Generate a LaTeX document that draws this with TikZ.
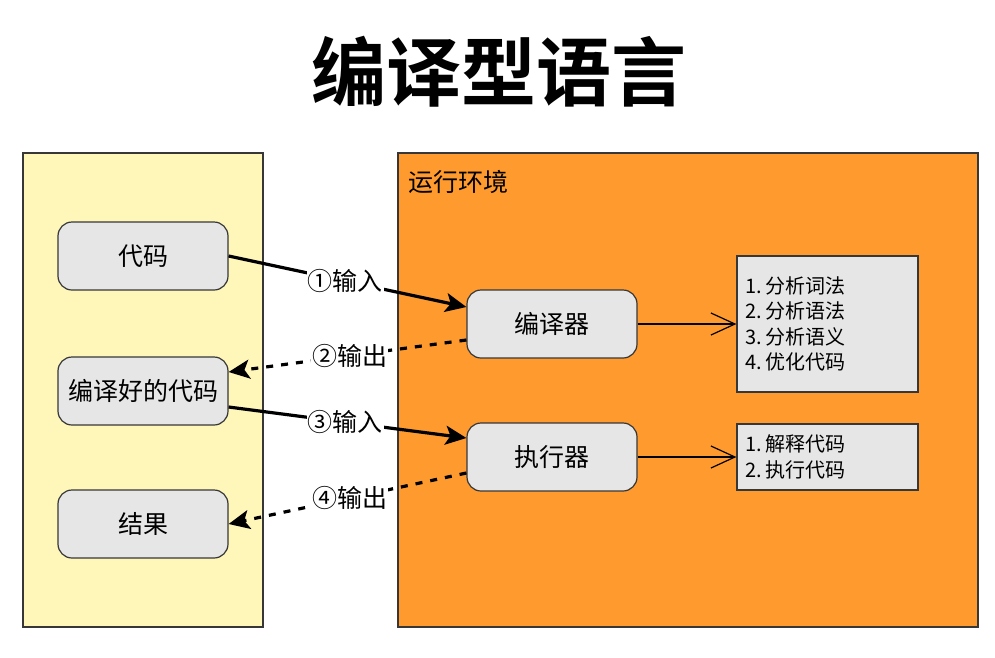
\documentclass[tikz,border=0pt]{standalone}
\usepackage{fontspec}
\setmainfont{Noto Sans CJK SC}[BoldFont={Noto Sans CJK SC Bold}]
\usetikzlibrary{arrows.meta}

\definecolor{panelYellow}{RGB}{255,246,186}
\definecolor{panelOrange}{RGB}{255,154,46}
\definecolor{boxGray}{RGB}{230,230,230}
\definecolor{lineGray}{RGB}{55,55,55}

\def \nodeFont {\fontsize{25}{30}\selectfont}
\def \listFont {\fontsize{20}{25.5}\selectfont}
\def \gap {\hspace{4pt}}

\tikzset{
  panel/.style={draw=lineGray, line width=1.2pt},
  stepnode/.style={draw=lineGray, line width=1.2pt, fill=boxGray, rounded corners=14pt,
    minimum width=170pt, minimum height=68pt, font=\nodeFont, inner sep=0pt},
  listbox/.style={draw=lineGray, line width=1.2pt, fill=boxGray, minimum width=181pt,
    text width=165pt, align=left, font=\listFont, inner xsep=8pt},
  flowin/.style={line width=3.2pt, -{Stealth[length=21pt,width=19pt,inset=5pt]}},
  flowout/.style={line width=3.2pt, dash pattern=on 7pt off 8pt, -{Stealth[length=21pt,width=19pt,inset=5pt]}},
  flowlabel/.style={fill=white, font=\nodeFont, inner sep=1pt},
  detail/.style={line width=1.2pt, -{Straight Barb[length=24pt,width=22pt,line width=1.2pt]}}
}

\begin{document}
\begin{tikzpicture}[x=1pt,y=-1pt]
      \useasboundingbox (0,0) rectangle (995,657);
      \node (title) at (499,72) {\fontsize{75}{75}\selectfont\bfseries 编译型语言};

      % panels
      \draw[panel, fill=panelYellow] (23,153) rectangle (263,627);
      \draw[panel, fill=panelOrange] (398,153) rectangle (978,627);
      \node[anchor=west, font=\nodeFont, inner sep=0pt] (env) at (408,182) {运行环境};

      % left column
      \node[stepnode] (src) at (143,256) {代码};
      \node[stepnode] (built) at (143,391) {编译好的代码};
      \node[stepnode] (result) at (143,524) {结果};

      % runtime
      \node[stepnode] (compiler) at (552,324) {编译器};
      \node[stepnode] (runner) at (552,457) {执行器};
      \node[listbox, minimum height=136pt] (compList) at (827.5,324)
        {1.\gap 分析词法\\2.\gap 分析语法\\3.\gap 分析语义\\4.\gap 优化代码};
      \node[listbox, minimum height=66pt] (runList) at (827.5,457)
        {1.\gap 解释代码\\2.\gap 执行代码};

      \draw[flowin] (src.east) -- node[flowlabel, pos=0.49] (in1) {①输入} ([yshift=17pt]compiler.west);
      \draw[flowout] ([yshift=-16pt]compiler.west) -- node[flowlabel, pos=0.49] (out2) {②输出} ([yshift=19pt]built.east);
      \draw[flowin] ([yshift=-16pt]built.east) -- node[flowlabel, pos=0.49] (in3) {③输入} ([yshift=19pt]runner.west);
      \draw[flowout] ([yshift=-16pt]runner.west) -- node[flowlabel, pos=0.49] (out4) {④输出} (result.east);

      \draw[detail] (compiler.east) -- (compList.west);
      \draw[detail] (runner.east) -- (runList.west);
   \end{tikzpicture}
\end{document}
